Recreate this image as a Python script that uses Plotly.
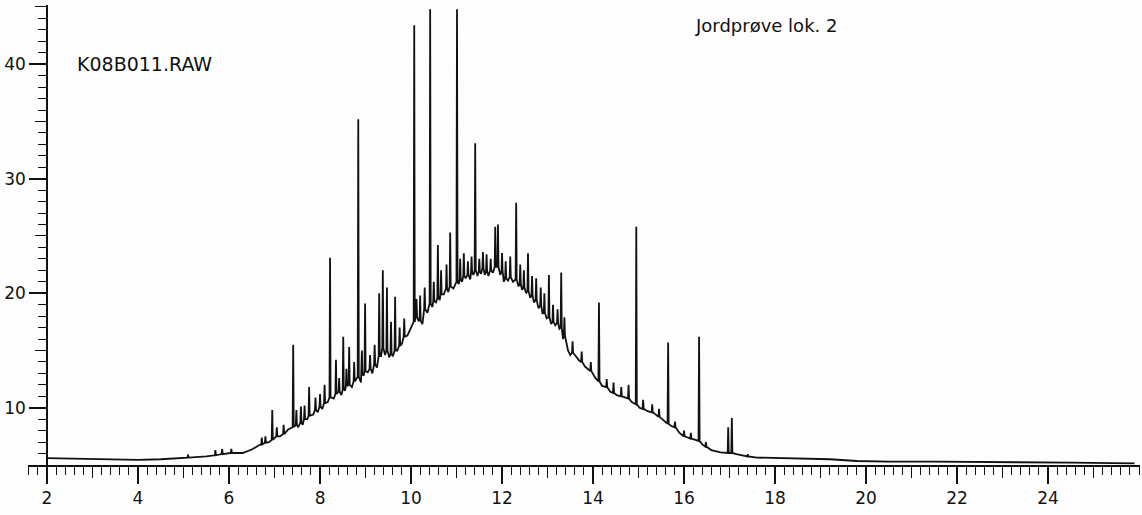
import plotly.graph_objects as go

# ---- data (retention time in min, signal) ----
# lower envelope / valleys of the hump
base_rt = [2.0, 2.5, 3.0, 3.5, 4.0, 4.5, 5.0, 5.5, 6.0, 6.3, 6.5, 6.65, 6.88, 7.0, 7.12,
           7.3, 7.52, 7.62, 7.72, 7.85, 7.95, 8.05, 8.17, 8.3, 8.47, 8.55, 8.7, 8.8, 8.9,
           8.96, 9.05, 9.15, 9.25, 9.34, 9.43, 9.52, 9.6, 9.7, 9.8, 9.92, 10.0, 10.16,
           10.25, 10.36, 10.47, 10.55, 10.63, 10.72, 10.82, 10.93, 11.05, 11.12, 11.2,
           11.3, 11.37, 11.46, 11.54, 11.62, 11.7, 11.8, 11.96, 12.04, 12.13, 12.24,
           12.36, 12.44, 12.53, 12.62, 12.7, 12.8, 12.89, 12.98, 13.08, 13.17, 13.26,
           13.34, 13.45, 13.5, 13.62, 13.7, 13.82, 13.88, 14.05, 14.2, 14.38, 14.52,
           14.7, 14.85, 15.02, 15.2, 15.38, 15.55, 15.72, 15.9, 16.08, 16.25, 16.4,
           16.6, 16.8, 17.15, 17.3, 17.6, 18.0, 18.6, 19.2, 19.8, 20.5, 21.5, 22.5,
           23.5, 24.5, 25.9]
base_sig = [5.6, 5.55, 5.5, 5.45, 5.45, 5.5, 5.6, 5.75, 6.0, 6.05, 6.35, 6.7, 7.0, 7.4, 7.5,
            8.1, 8.3, 8.5, 9.0, 9.4, 9.6, 9.9, 10.5, 10.8, 11.1, 11.5, 11.8, 12.5, 12.2,
            12.8, 13.1, 13.0, 13.5, 14.5, 14.6, 14.4, 14.5, 15.0, 15.6, 16.3, 17.0, 17.6,
            17.3, 18.3, 18.8, 19.2, 19.4, 19.9, 20.1, 20.4, 20.8, 21.0, 21.3,
            21.2, 21.6, 21.5, 21.7, 21.6, 21.5, 21.8, 21.6, 21.0, 21.1, 21.0,
            20.6, 20.3, 20.0, 19.6, 19.2, 18.7, 18.2, 17.8, 17.3, 17.2, 16.9,
            16.0, 15.0, 14.6, 14.5, 14.1, 13.6, 13.4, 12.6, 11.9, 11.4, 11.1,
            10.9, 10.5, 10.0, 9.7, 9.4, 8.9, 8.4, 7.8, 7.4, 7.2, 6.8,
            6.3, 6.1, 5.95, 5.8, 5.65, 5.6, 5.55, 5.5, 5.35, 5.3, 5.3, 5.25,
            5.2, 5.2, 5.15]

# peaks: retention time, foot level, apex level
peak_rt = [5.10, 5.70, 5.85, 6.05, 6.72, 6.80, 6.95, 7.05, 7.20, 7.41, 7.48, 7.58, 7.66,
           7.76, 7.90, 8.00, 8.10, 8.22, 8.35, 8.42, 8.51, 8.58, 8.64, 8.75, 8.84, 8.92,
           8.99, 9.10, 9.20, 9.30, 9.38, 9.47, 9.56, 9.65, 9.75, 9.85, 10.07, 10.12,
           10.20, 10.30, 10.42, 10.50, 10.59, 10.66, 10.78, 10.86, 11.01, 11.08, 11.16,
           11.25, 11.33, 11.41, 11.50, 11.58, 11.66, 11.75, 11.85, 11.91, 12.00, 12.08,
           12.18, 12.31, 12.40, 12.48, 12.57, 12.66, 12.75, 12.85, 12.93, 13.03, 13.12,
           13.22, 13.30, 13.37, 13.55, 13.75, 13.95, 14.13, 14.30, 14.45, 14.62, 14.78,
           14.95, 15.10, 15.30, 15.45, 15.65, 15.80, 16.00, 16.15, 16.33, 16.48, 16.97,
           17.05, 17.40]
peak_foot = [5.65, 5.85, 5.95, 6.05, 6.8, 6.95, 7.2, 7.5, 7.7, 8.3, 8.5, 8.7, 9.0,
             9.3, 9.8, 10.1, 10.4, 10.9, 11.2, 11.4, 11.6, 11.9, 12.0, 12.3, 12.7, 12.9,
             13.2, 13.4, 13.8, 14.5, 15.2, 15.0, 14.7, 15.0, 15.4, 16.2, 17.5, 18.0,
             17.6, 18.6, 19.1, 19.3, 19.6, 19.9, 20.4, 20.6, 21.0, 21.2, 21.5,
             21.6, 21.8, 22.0, 21.9, 22.2, 21.9, 22.0, 22.3, 22.3, 21.9, 21.3,
             21.4, 21.2, 20.8, 20.5, 20.2, 19.8, 19.4, 18.9, 18.3, 17.9, 17.5,
             17.4, 17.0, 16.3, 14.8, 14.0, 13.2, 12.3, 11.8, 11.3, 11.0, 10.8,
             10.3, 9.9, 9.6, 9.2, 8.6, 8.3, 7.5, 7.3, 7.1, 6.6, 6.05,
             6.05, 5.75]
peak_top = [5.9, 6.3, 6.4, 6.4, 7.4, 7.5, 9.8, 8.3, 8.5, 15.5, 9.8, 10.1, 10.2,
            11.8, 10.9, 11.2, 12.0, 23.1, 14.2, 12.6, 16.2, 13.4, 15.3, 14.0, 35.2, 15.0,
            19.1, 14.6, 15.5, 20.0, 22.0, 20.5, 17.5, 19.7, 17.0, 17.8, 43.4, 19.5,
            19.8, 20.5, 44.8, 21.0, 24.2, 22.0, 22.5, 25.3, 44.8, 23.0, 23.5,
            22.8, 23.2, 33.1, 23.0, 23.6, 23.4, 23.0, 25.8, 26.0, 23.5, 22.8,
            23.2, 27.9, 22.5, 22.0, 23.5, 21.5, 21.3, 20.5, 20.0, 21.6, 19.0,
            18.6, 21.8, 17.9, 15.8, 14.9, 14.0, 19.2, 12.5, 12.2, 11.8, 12.0,
            25.8, 10.7, 10.3, 9.9, 15.7, 8.8, 8.0, 7.8, 16.2, 7.0, 8.3,
            9.1, 5.95]

# axis tick labels
x_tick_vals = [2, 4, 6, 8, 10, 12, 14, 16, 18, 20, 22, 24]
y_tick_vals = [10, 20, 30, 40]

# ---- assemble trace points (valleys + spike triplets), sorted by time ----
pts = list(zip(base_rt, base_sig))
HW = 0.012
for rt, ft, tp in zip(peak_rt, peak_foot, peak_top):
    pts += [(rt - HW, ft), (rt, tp), (rt + HW, ft)]
pts.sort(key=lambda p: p[0])
xs = [p[0] for p in pts]
ys = [p[1] for p in pts]

X_RANGE = [1.582, 26.02]
Y_RANGE = [5.0, 45.17]
FONT = "DejaVu Sans"
INK = "#111111"

fig = go.Figure()
fig.add_trace(go.Scatter(x=xs, y=ys, mode="lines",
                         line=dict(color=INK, width=1.8), hoverinfo="skip",
                         showlegend=False))
# helper invisible trace so the overlay axes are drawn
fig.add_trace(go.Scatter(x=[X_RANGE[0]], y=[Y_RANGE[0]], xaxis="x2", yaxis="y2",
                         mode="markers", marker=dict(opacity=0), showlegend=False,
                         hoverinfo="skip"))

fig.update_layout(
    width=1142, height=515,
    margin=dict(l=28, r=2, t=5, b=50),
    paper_bgcolor="#fdfdfd", plot_bgcolor="#fdfdfd",
    font=dict(family=FONT, color=INK, size=17),
    xaxis=dict(range=X_RANGE, showgrid=False, zeroline=False,
               showline=True, linecolor=INK, linewidth=1.6,
               ticks="outside", tickmode="array", tickvals=x_tick_vals,
               ticklen=17, tickwidth=1.5, tickcolor=INK,
               tickfont=dict(family=FONT, size=17, color=INK),
               minor=dict(ticks="outside", dtick=0.2, tick0=2, ticklen=8,
                          tickwidth=1.3, tickcolor=INK),
               anchor="y"),
    xaxis2=dict(range=X_RANGE, overlaying="x", side="bottom", anchor="y",
                showgrid=False, zeroline=False, showline=False,
                ticks="outside", tickmode="linear", tick0=3, dtick=2,
                ticklen=12, tickwidth=1.4, tickcolor=INK, showticklabels=False),
    yaxis=dict(range=Y_RANGE, showgrid=False, zeroline=False,
               showline=True, linecolor=INK, linewidth=1.6,
               anchor="free", position=19 / 1112,
               ticks="outside", tickmode="array", tickvals=y_tick_vals,
               ticklen=17, tickwidth=1.5, tickcolor=INK,
               tickfont=dict(family=FONT, size=17, color=INK),
               minor=dict(ticks="outside", dtick=1, tick0=5, ticklen=8,
                          tickwidth=1.3, tickcolor=INK)),
    yaxis2=dict(range=Y_RANGE, overlaying="y", side="left",
                anchor="free", position=19 / 1112,
                showgrid=False, zeroline=False, showline=False,
                ticks="outside", tickmode="array", tickvals=[5, 15, 25, 35, 45],
                ticklen=12, tickwidth=1.4, tickcolor=INK, showticklabels=False),
    annotations=[
        dict(text="K08B011.RAW", x=2.615, y=40.0, xref="x", yref="y",
             xanchor="left", yanchor="middle", showarrow=False,
             font=dict(family=FONT, size=19, color=INK)),
        dict(text="Jordprøve lok. 2", x=16.2, y=43.4, xref="x", yref="y",
             xanchor="left", yanchor="middle", showarrow=False,
             font=dict(family=FONT, size=18, color=INK)),
    ],
)

fig.write_html("out.html")
